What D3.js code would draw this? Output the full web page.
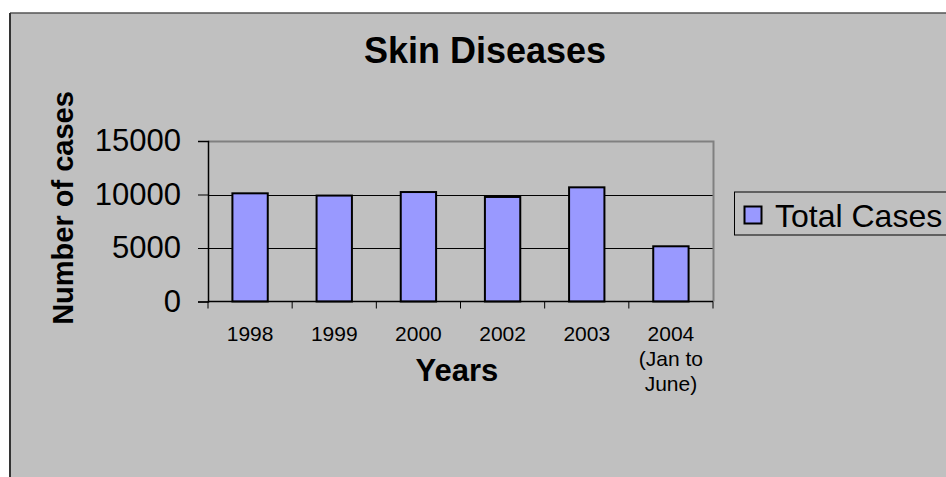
<!DOCTYPE html>
<html>
<head>
<meta charset="utf-8">
<script src="https://cdn.jsdelivr.net/npm/d3@7/dist/d3.min.js"></script>
<style>
  html, body { margin: 0; padding: 0; background: #ffffff; }
  svg { display: block; font-family: "Liberation Sans", Arial, sans-serif; }
</style>
</head>
<body>
<svg id="chart" width="946" height="477"></svg>
<script>
// Skin disease case counts by year
const years = ["1998", "1999", "2000", "2002", "2003", "2004"];
const yearSubLabels = [[], [], [], [], [], ["(Jan to", "June)"]];
const totalCases = [10110, 9900, 10230, 9770, 10670, 5160];
const yTicks = [0, 5000, 10000, 15000];
const seriesName = "Total Cases";

const svg = d3.select("#chart");
const W = 946, H = 477;

// chart area background with frame
svg.append("rect").attr("x", 10).attr("y", 13).attr("width", W).attr("height", H)
  .attr("fill", "#c0c0c0");
svg.append("line").attr("x1", 10).attr("x2", W).attr("y1", 13).attr("y2", 13)
  .attr("stroke", "#555").attr("stroke-width", 1.5);
svg.append("line").attr("x1", 10).attr("x2", 10).attr("y1", 13).attr("y2", H)
  .attr("stroke", "#333").attr("stroke-width", 2);

const plot = { left: 208, right: 713, top: 141, bottom: 301.5 };

const x = d3.scaleBand().domain(years).range([plot.left, plot.right]).padding(0);
const y = d3.scaleLinear().domain([0, 15000]).range([plot.bottom, plot.top]);

// gridlines
svg.append("g").selectAll("line").data(yTicks.filter(v => v > 0 && v < 15000)).join("line")
  .attr("x1", plot.left).attr("x2", plot.right)
  .attr("y1", d => Math.round(y(d)) + 0.5).attr("y2", d => Math.round(y(d)) + 0.5)
  .attr("stroke", "#000").attr("stroke-width", 1);

// plot border (top & right)
svg.append("path")
  .attr("d", `M${plot.left},${plot.top + 0.5}H${plot.right + 0.5}V${plot.bottom}`)
  .attr("fill", "none").attr("stroke", "#808080").attr("stroke-width", 2);

// bars
const barW = x.bandwidth() * 0.42;
svg.append("g").selectAll("rect").data(years).join("rect")
  .attr("x", d => x(d) + (x.bandwidth() - barW) / 2)
  .attr("y", (d, i) => y(totalCases[i]))
  .attr("width", barW)
  .attr("height", (d, i) => y(0) - y(totalCases[i]))
  .attr("fill", "#9999ff").attr("stroke", "#000").attr("stroke-width", 2);

// y axis
const yAxis = d3.axisLeft(y).tickValues(yTicks).tickSize(10).tickPadding(17)
  .tickFormat(d3.format("d"));
const gy = svg.append("g").attr("transform", `translate(${plot.left},0)`).call(yAxis);
gy.select(".domain").attr("stroke", "#000").attr("stroke-width", 1.5);
gy.selectAll(".tick line").attr("stroke", "#000");
gy.selectAll(".tick text").attr("font-size", 31).attr("fill", "#000")
  .attr("font-family", "Liberation Sans, Arial, sans-serif");

// x axis with ticks at band boundaries
const gx = svg.append("g").attr("transform", `translate(0,${plot.bottom})`);
gx.append("line").attr("x1", plot.left).attr("x2", plot.right).attr("y1", 0).attr("y2", 0)
  .attr("stroke", "#000").attr("stroke-width", 1.5);
const bounds = years.map(d => x(d)).concat([plot.right]);
gx.selectAll("line.tk").data(bounds).join("line").attr("class", "tk")
  .attr("x1", d => d).attr("x2", d => d).attr("y1", 0).attr("y2", 7)
  .attr("stroke", "#000").attr("stroke-width", 1);
const lbl = gx.selectAll("text.tl").data(years).join("text").attr("class", "tl")
  .attr("x", d => x(d) + x.bandwidth() / 2)
  .attr("y", 39)
  .attr("text-anchor", "middle").attr("font-size", 21).attr("fill", "#000");
lbl.each(function (d, i) {
  const t = d3.select(this);
  t.append("tspan").attr("x", x(d) + x.bandwidth() / 2).text(d);
  yearSubLabels[i].forEach(s => {
    t.append("tspan").attr("x", x(d) + x.bandwidth() / 2).attr("dy", 25).text(s);
  });
});

// title
svg.append("text").attr("x", 485).attr("y", 63).attr("text-anchor", "middle")
  .attr("font-size", 36).attr("font-weight", "bold").text("Skin Diseases");

// axis titles
svg.append("text").attr("x", 457).attr("y", 381).attr("text-anchor", "middle")
  .attr("font-size", 31).attr("font-weight", "bold").text("Years");
svg.append("text")
  .attr("transform", "translate(73,208) rotate(-90)")
  .attr("text-anchor", "middle")
  .attr("font-size", 29).attr("font-weight", "bold").text("Number of cases");

// legend
const lg = svg.append("g");
lg.append("rect").attr("x", 734.5).attr("y", 192).attr("width", 240).attr("height", 43)
  .attr("fill", "none").attr("stroke", "#000").attr("stroke-width", 1);
lg.append("rect").attr("x", 744.5).attr("y", 206.5).attr("width", 17).attr("height", 17)
  .attr("fill", "#9999ff").attr("stroke", "#000").attr("stroke-width", 2);
lg.append("text").attr("x", 775).attr("y", 226.5).attr("font-size", 32).text(seriesName);
</script>
</body>
</html>
